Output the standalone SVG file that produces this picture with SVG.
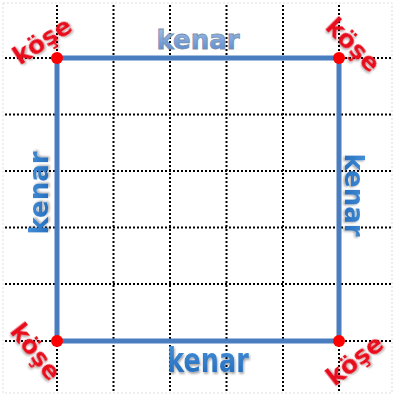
<svg xmlns="http://www.w3.org/2000/svg" width="395" height="396" viewBox="0 0 395 396">
<defs>
<linearGradient id="gTop" x1="0" y1="0" x2="0" y2="1">
<stop offset="0" stop-color="#a9c6ec"/><stop offset="1" stop-color="#4f83cc"/>
</linearGradient>
<linearGradient id="gBot" x1="0" y1="0" x2="0" y2="1">
<stop offset="0" stop-color="#4a93dc"/><stop offset="1" stop-color="#1f68b8"/>
</linearGradient>
<filter id="sh" x="-20%" y="-20%" width="140%" height="140%">
<feDropShadow dx="1" dy="1.5" stdDeviation="1" flood-color="#000" flood-opacity="0.35"/>
</filter>
</defs>
<style>
.grid line{stroke:#000;stroke-width:2;stroke-dasharray:2 2}
.frame{fill:none;stroke:#ddd;stroke-width:1;stroke-dasharray:2 2}
.edge line{stroke:#4a7cc0;stroke-width:5;stroke-linecap:square}
.dot{fill:#f00}
.kenar{font-family:"DejaVu Sans",sans-serif;font-weight:bold;font-size:26px;text-anchor:middle}
.k1{fill:url(#gTop);stroke:#7a8fae;stroke-width:0.8}
.k2{fill:url(#gBot);filter:url(#sh)}
.kose{font-family:"DejaVu Sans",sans-serif;font-weight:bold;font-size:25px;fill:#e8101a;text-anchor:middle;filter:url(#sh)}
</style>
<rect width="395" height="396" fill="#fff"/>
<rect class="frame" x="3" y="3" width="389" height="390"/>
<g class="grid">
<line x1="57" y1="5" x2="57" y2="392"/>
<line x1="113.5" y1="5" x2="113.5" y2="392"/>
<line x1="170" y1="5" x2="170" y2="392"/>
<line x1="226.5" y1="5" x2="226.5" y2="392"/>
<line x1="283" y1="5" x2="283" y2="392"/>
<line x1="339" y1="5" x2="339" y2="392"/>
<line x1="5" y1="58" x2="392" y2="58"/>
<line x1="5" y1="114.5" x2="392" y2="114.5"/>
<line x1="5" y1="171" x2="392" y2="171"/>
<line x1="5" y1="227.5" x2="392" y2="227.5"/>
<line x1="5" y1="284" x2="392" y2="284"/>
<line x1="5" y1="341" x2="392" y2="341"/>
</g>
<g id="connectors" class="edge">
<line x1="57" y1="58" x2="339" y2="58"/>
<line x1="339" y1="58" x2="339" y2="341"/>
<line x1="339" y1="341" x2="57" y2="341"/>
<line x1="57" y1="341" x2="57" y2="58"/>
</g>
<g id="kenar-top"><text class="kenar k1" x="198" y="49">kenar</text></g>
<g id="kenar-bottom"><text class="kenar k2" transform="translate(208,372) scale(0.98,1.3)" x="0" y="0">kenar</text></g>
<g id="kenar-left"><text class="kenar k2" transform="translate(48,193) rotate(-90)" x="0" y="0">kenar</text></g>
<g id="kenar-right"><text class="kenar k2" transform="translate(345,195) rotate(90)" x="0" y="0">kenar</text></g>
<g id="kose-tl"><circle class="dot" cx="57" cy="58" r="6"/><text class="kose" transform="translate(47,48) rotate(-33)">köşe</text></g>
<g id="kose-tr"><circle class="dot" cx="339" cy="58" r="6"/><text class="kose" transform="translate(347,51) rotate(45)">köşe</text></g>
<g id="kose-bl"><circle class="dot" cx="57" cy="341" r="6"/><text class="kose" transform="translate(29,357) rotate(52)">köşe</text></g>
<g id="kose-br"><circle class="dot" cx="339" cy="341" r="6"/><text class="kose" transform="translate(360,367) rotate(-38)">köşe</text></g>
</svg>
